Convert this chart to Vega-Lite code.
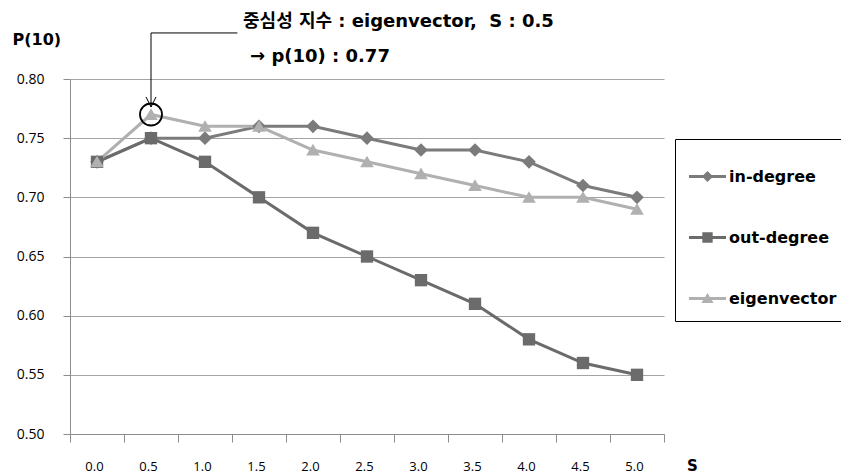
{
  "$schema": "https://vega.github.io/schema/vega-lite/v6.json",
  "width": 594,
  "height": 355,
  "autosize": {"type": "none"},
  "padding": {"left": 70, "top": 79, "right": 177, "bottom": 41},
  "background": "white",
  "config": {"view": {"stroke": null}, "font": "Open Sans"},
  "datasets": {
    "main": [
      {"S": "0.0", "series": "in-degree", "v": 0.73},
      {"S": "0.5", "series": "in-degree", "v": 0.75},
      {"S": "1.0", "series": "in-degree", "v": 0.75},
      {"S": "1.5", "series": "in-degree", "v": 0.76},
      {"S": "2.0", "series": "in-degree", "v": 0.76},
      {"S": "2.5", "series": "in-degree", "v": 0.75},
      {"S": "3.0", "series": "in-degree", "v": 0.74},
      {"S": "3.5", "series": "in-degree", "v": 0.74},
      {"S": "4.0", "series": "in-degree", "v": 0.73},
      {"S": "4.5", "series": "in-degree", "v": 0.71},
      {"S": "5.0", "series": "in-degree", "v": 0.70},
      {"S": "0.0", "series": "out-degree", "v": 0.73},
      {"S": "0.5", "series": "out-degree", "v": 0.75},
      {"S": "1.0", "series": "out-degree", "v": 0.73},
      {"S": "1.5", "series": "out-degree", "v": 0.70},
      {"S": "2.0", "series": "out-degree", "v": 0.67},
      {"S": "2.5", "series": "out-degree", "v": 0.65},
      {"S": "3.0", "series": "out-degree", "v": 0.63},
      {"S": "3.5", "series": "out-degree", "v": 0.61},
      {"S": "4.0", "series": "out-degree", "v": 0.58},
      {"S": "4.5", "series": "out-degree", "v": 0.56},
      {"S": "5.0", "series": "out-degree", "v": 0.55},
      {"S": "0.0", "series": "eigenvector", "v": 0.73},
      {"S": "0.5", "series": "eigenvector", "v": 0.77},
      {"S": "1.0", "series": "eigenvector", "v": 0.76},
      {"S": "1.5", "series": "eigenvector", "v": 0.76},
      {"S": "2.0", "series": "eigenvector", "v": 0.74},
      {"S": "2.5", "series": "eigenvector", "v": 0.73},
      {"S": "3.0", "series": "eigenvector", "v": 0.72},
      {"S": "3.5", "series": "eigenvector", "v": 0.71},
      {"S": "4.0", "series": "eigenvector", "v": 0.70},
      {"S": "4.5", "series": "eigenvector", "v": 0.70},
      {"S": "5.0", "series": "eigenvector", "v": 0.69}
    ]
  },
  "resolve": {"scale": {"x": "independent", "y": "independent"}},
  "layer": [
    {
      "data": {"name": "main"},
      "layer": [
        {
          "mark": {"type": "line", "strokeWidth": 3},
          "encoding": {
            "x": {
              "field": "S", "type": "ordinal",
              "scale": {"type": "band", "domain": ["0.0","0.5","1.0","1.5","2.0","2.5","3.0","3.5","4.0","4.5","5.0"], "paddingInner": 0, "paddingOuter": 0},
              "axis": {
                "title": "S", "titleX": 622, "titleY": 31, "titleAlign": "center", "titleBaseline": "middle",
                "titleAngle": 0, "titleFontSize": 15, "titleFontWeight": "bold", "titleColor": "#000", "titleFont": "DejaVu Sans",
                "tickBand": "extent", "tickSize": 8, "tickColor": "#8c8c8c", "domainColor": "#8c8c8c",
                "labelAngle": 0, "labelBaseline": "middle", "labelPadding": 24, "labelFontSize": 13,
                "labelColor": "#000", "labelOffset": -3, "labelFont": "Open Sans", "grid": false
              }
            },
            "y": {
              "field": "v", "type": "quantitative",
              "scale": {"domain": [0.5, 0.8], "nice": false, "zero": false},
              "axis": {
                "title": "P(10)", "titleAngle": 0, "titleX": -58, "titleY": -40, "titleAlign": "left", "titleBaseline": "middle",
                "titleFontSize": 16, "titleFontWeight": "bold", "titleColor": "#000", "titleFont": "DejaVu Sans",
                "values": [0.5, 0.55, 0.6, 0.65, 0.7, 0.75, 0.8], "format": ".2f",
                "tickSize": 7, "tickColor": "#8c8c8c", "domainColor": "#8c8c8c",
                "labelPadding": 19, "labelFontSize": 14, "labelColor": "#000", "labelFont": "Open Sans",
                "grid": true, "gridColor": "#a3a3a3"
              }
            },
            "color": {
              "field": "series", "type": "nominal",
              "scale": {"domain": ["in-degree", "out-degree", "eigenvector"], "range": ["#7b7b7b", "#6b6b6b", "#b0b0b0"]}
            }
          }
        },
        {
          "transform": [{"filter": "datum.series === 'in-degree'"}],
          "mark": {"type": "point", "shape": "M0,-1.05L1.05,0L0,1.05L-1.05,0Z", "filled": true, "opacity": 1, "size": 169, "strokeWidth": 0},
          "encoding": {
            "x": {"field": "S", "type": "ordinal"},
            "y": {"field": "v", "type": "quantitative"},
            "color": {"field": "series", "type": "nominal"}
          }
        },
        {
          "transform": [{"filter": "datum.series === 'out-degree'"}],
          "mark": {"type": "point", "shape": "M-0.95,-0.95H0.95V0.95H-0.95Z", "filled": true, "opacity": 1, "size": 169, "strokeWidth": 0},
          "encoding": {
            "x": {"field": "S", "type": "ordinal"},
            "y": {"field": "v", "type": "quantitative"},
            "color": {"field": "series", "type": "nominal"}
          }
        },
        {
          "transform": [{"filter": "datum.series === 'eigenvector'"}],
          "mark": {"type": "point", "shape": "M0,-0.95L1.05,0.85H-1.05Z", "filled": true, "opacity": 1, "size": 169, "strokeWidth": 0},
          "encoding": {
            "x": {"field": "S", "type": "ordinal"},
            "y": {"field": "v", "type": "quantitative"},
            "color": {"field": "series", "type": "nominal"}
          }
        },
        {
          "mark": {"type": "point", "filled": true, "size": 0, "strokeWidth": 0},
          "encoding": {
            "x": {"field": "S", "type": "ordinal"},
            "y": {"field": "v", "type": "quantitative"},
            "color": {
              "field": "series", "type": "nominal",
              "legend": {
                "orient": "none", "legendX": 605, "legendY": 60, "title": " ", "titleFontSize": 5, "titlePadding": 0,
                "padding": 14, "strokeColor": "#000", "fillColor": "#fff", "cornerRadius": 0, "rowPadding": 34,
                "symbolSize": 1369, "symbolStrokeWidth": 0, "symbolOpacity": 1, "labelFontSize": 16, "labelFontWeight": "bold",
                "labelColor": "#000", "labelOffset": 3, "labelFont": "DejaVu Sans"
              }
            },
            "shape": {
              "field": "series", "type": "nominal",
              "scale": {"domain": ["in-degree", "out-degree", "eigenvector"], "range": ["M-1,-0.08H1V0.08H-1Z M0,-0.3L0.3,0L0,0.3L-0.3,0Z", "M-1,-0.08H1V0.08H-1Z M-0.28,-0.28H0.28V0.28H-0.28Z", "M-1,-0.08H1V0.08H-1Z M0,-0.3L0.33,0.24H-0.33Z"]},
              "legend": {
                "orient": "none", "legendX": 605, "legendY": 60, "title": " ", "titleFontSize": 5, "titlePadding": 0,
                "padding": 14, "strokeColor": "#000", "fillColor": "#fff", "cornerRadius": 0, "rowPadding": 34,
                "symbolSize": 1369, "symbolStrokeWidth": 0, "symbolOpacity": 1, "labelFontSize": 16, "labelFontWeight": "bold",
                "labelColor": "#000", "labelOffset": 3, "labelFont": "DejaVu Sans"
              }
            }
          }
        }
      ]
    },
    {
      "layer": [
        {
          "data": {"values": [
            {"x": 0.5, "x2": 1.3, "y": 0.8389, "y2": 0.8389},
            {"x": 0.5, "x2": 0.5, "y": 0.8389, "y2": 0.7763}
          ]},
          "mark": {"type": "rule", "color": "#000", "strokeWidth": 1, "clip": false},
          "encoding": {
            "x": {"field": "x", "type": "quantitative", "scale": {"domain": [-0.25, 5.25], "nice": false, "zero": false}, "axis": null},
            "x2": {"field": "x2"},
            "y": {"field": "y", "type": "quantitative", "scale": {"domain": [0.5, 0.8], "nice": false, "zero": false}, "axis": null},
            "y2": {"field": "y2"}
          }
        },
        {
          "data": {"values": [{"x": 0.5, "y": 0.7806}]},
          "mark": {"type": "point", "shape": "M-1,-1L0,1L1,-1", "filled": false, "stroke": "#000", "strokeWidth": 1, "size": 100, "opacity": 1, "clip": false},
          "encoding": {
            "x": {"field": "x", "type": "quantitative", "axis": null},
            "y": {"field": "y", "type": "quantitative", "axis": null}
          }
        },
        {
          "data": {"values": [{"x": 0.5, "y": 0.77}]},
          "mark": {"type": "point", "shape": "circle", "filled": false, "stroke": "#000", "strokeWidth": 1.8, "size": 484, "opacity": 1, "clip": false},
          "encoding": {
            "x": {"field": "x", "type": "quantitative", "axis": null},
            "y": {"field": "y", "type": "quantitative", "axis": null}
          }
        },
        {
          "data": {"values": [
            {"x": 1.352, "y": 0.8482, "t": "중심성 지수 : eigenvector,\u00a0\u00a0S : 0.5"},
            {"x": 1.417, "y": 0.8186, "t": "→ p(10) : 0.77"}
          ]},
          "mark": {"type": "text", "align": "left", "baseline": "middle", "fontSize": 18, "fontWeight": "bold", "font": "DejaVu Sans, Noto Sans CJK KR", "color": "#000", "clip": false},
          "encoding": {
            "x": {"field": "x", "type": "quantitative", "axis": null},
            "y": {"field": "y", "type": "quantitative", "axis": null},
            "text": {"field": "t"}
          }
        }
      ]
    }
  ]
}
